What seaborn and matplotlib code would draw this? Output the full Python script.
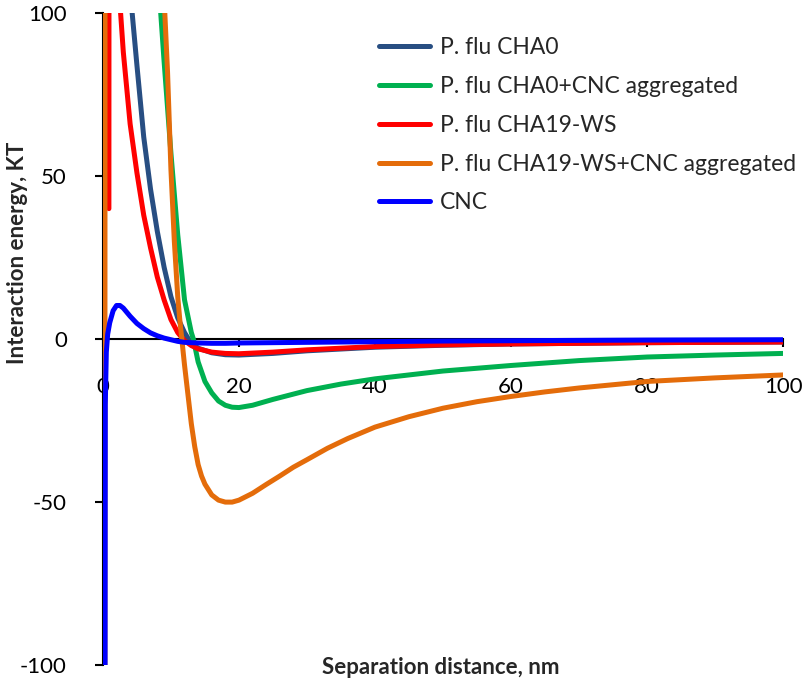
import pandas as pd
import matplotlib
matplotlib.use("Agg")
import matplotlib.pyplot as plt
import seaborn as sns

# series names (legend order)
names = ["P. flu CHA0", "P. flu CHA0+CNC aggregated", "P. flu CHA19-WS",
         "P. flu CHA19-WS+CNC aggregated", "CNC"]
colores = ["#284e82", "#00b050", "#ff0000", "#e46c0a", "#0000ff"]

# values (separation nm, energy KT)
x_cha0 = [4.0, 4.3, 5, 6, 7, 8, 9, 10, 11, 12, 12.5, 13, 14, 16, 18, 20, 25, 30, 40, 50, 60, 70, 80, 90, 100]
y_cha0 = [115, 100, 84, 62, 46, 33, 22, 13, 6.5, 2.0, 0.3, -1.2, -2.8, -4.2, -4.8, -4.9, -4.4, -3.6, -2.5, -1.9, -1.5, -1.3, -1.1, -1.0, -0.9]

x_cha0_cnc = [8.0, 8.5, 9, 10, 11, 12, 13, 13.3, 14, 15, 16, 17, 18, 19, 20, 22, 25, 30, 35, 40, 50, 60, 70, 80, 90, 100]
y_cha0_cnc = [125, 100, 85, 57, 32, 12, 2, 0, -7, -13, -16.5, -19, -20.3, -20.9, -21, -20.3, -18.5, -15.8, -13.8, -12.2, -9.8, -8.1, -6.6, -5.5, -4.9, -4.4]

x_cha19 = [0.88, 0.95, 2.4, 2.6, 3, 4, 5, 6, 7, 8, 9, 10, 11, 12, 13, 14, 16, 18, 20, 25, 30, 40, 50, 60, 70, 80, 90, 100]
y_cha19 = [40, 400, 108, 100, 88, 66, 51, 38, 28, 19, 12, 6, 2, -0.5, -2, -3, -4, -4.4, -4.5, -4.0, -3.3, -2.3, -1.8, -1.5, -1.3, -1.1, -1.0, -0.9]

x_cha19_cnc = [0.25, 0.35, 5, 8.0, 8.5, 9.1, 9.5, 10, 10.5, 11, 11.3, 11.6, 12, 12.5, 13, 13.5, 14, 14.5, 15, 16, 17, 18, 19, 20, 22, 24, 26, 28, 30, 33, 36, 40, 45, 50, 55, 60, 65, 70, 80, 90, 100]
y_cha19_cnc = [-400, 400, 600, 200, 145, 100, 82, 52, 30, 13, 6, 0, -8, -17, -26, -33, -38.5, -42, -44.5, -47.8, -49.4, -50, -50, -49.4, -47.3, -44.6, -42, -39.3, -37, -33.5, -30.5, -27, -23.8, -21.2, -19.2, -17.6, -16.2, -15, -13, -11.9, -11]

x_cnc = [0.3, 0.35, 0.5, 0.7, 1.0, 1.5, 2.0, 2.5, 3, 4, 5, 6, 7, 8, 9, 10, 11, 12, 14, 16, 18, 20, 25, 30, 40, 50, 60, 70, 80, 90, 100]
y_cnc = [-150, -20, -4, 1.5, 5, 8.7, 10.3, 10.3, 9.5, 7, 4.8, 3.2, 1.9, 1.0, 0.3, -0.2, -0.7, -1.0, -1.2, -1.3, -1.3, -1.2, -1.1, -1.0, -0.8, -0.6, -0.5, -0.4, -0.3, -0.25, -0.2]

xs = [x_cha0, x_cha0_cnc, x_cha19, x_cha19_cnc, x_cnc]
ys = [y_cha0, y_cha0_cnc, y_cha19, y_cha19_cnc, y_cnc]

frames = []
for n, x, y in zip(names, xs, ys):
    frames.append(pd.DataFrame({"dist": x, "energia": y, "serie": n}))
df = pd.concat(frames, ignore_index=True)

sns.set_style("white")
plt.rcParams["font.family"] = ["Lato", "DejaVu Sans"]
plt.rcParams["axes.unicode_minus"] = False

fig = plt.figure(figsize=(8.04, 6.85), dpi=100)
ax = fig.add_axes([0.128, 0.029, 0.846, 0.952])

sns.lineplot(data=df, x="dist", y="energia", hue="serie", hue_order=names,
             palette=colores, estimator=None, sort=False, linewidth=3.6, ax=ax)

ax.set_xlim(0, 100)
ax.set_ylim(-100, 100)
ax.set_xticks([0, 20, 40, 60, 80, 100])
ax.set_yticks([-100, -50, 0, 50, 100])

# ejes estilo Excel: eje x cruza en y=0
ax.spines["bottom"].set_position(("data", 0))
ax.spines["top"].set_visible(False)
ax.spines["right"].set_visible(False)
for s in ["left", "bottom"]:
    ax.spines[s].set_color("black")
    ax.spines[s].set_linewidth(1.5)
    ax.spines[s].set_zorder(1)

ax.tick_params(axis="x", direction="out", length=6, width=1.5, pad=21, labelsize=16, colors="black")
ax.tick_params(axis="y", direction="out", length=6, width=1.5, pad=20, labelsize=16, colors="black")
ax.xaxis.set_ticks_position("bottom")
ax.yaxis.set_ticks_position("left")

ax.set_xlabel("Separation distance, nm", fontsize=16, fontweight="bold")
ax.xaxis.label.set_va("center")
ax.xaxis.set_label_coords(0.496, -0.003)
ax.set_ylabel("Interaction energy, KT", fontsize=16, fontweight="bold")
ax.yaxis.label.set_va("center")
ax.yaxis.set_label_coords(-0.125, 0.633)

leg = ax.legend(loc="upper left", bbox_to_anchor=(0.376, 0.995), frameon=False,
                fontsize=16.5, handlelength=2.2, handletextpad=0.45, labelspacing=0.78)
for l in leg.get_lines():
    l.set_linewidth(3.6)

fig.savefig("out.png", dpi=100)
